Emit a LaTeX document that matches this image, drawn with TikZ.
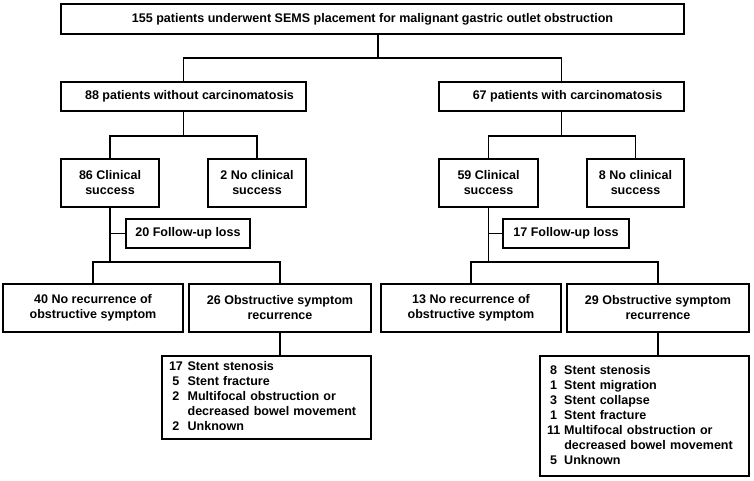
\documentclass[tikz,border=0pt]{standalone}
\usepackage{fontspec}
\setmainfont{Liberation Sans}
\usetikzlibrary{calc}
\tikzset{
  box/.style={draw, line width=1.4pt, align=center, inner sep=0pt,
    font=\bfseries\fontsize{9.4pt}{11.25pt}\selectfont},
  sz/.style 2 args={minimum width=#1*0.75pt, minimum height=#2*0.75pt},
  conn/.style={line width=1.4pt, line cap=rect, line join=miter},
  listbox/.style 2 args={box, align=left, inner ysep=0pt, inner xsep=5.25pt,
    text width=#1*0.75pt-10.5pt, minimum height=#2*0.75pt}
}
\begin{document}
\begin{tikzpicture}[x=0.75pt,y=-0.75pt]
\fill[white] (0,0) rectangle (754,480);
\useasboundingbox (0,0) rectangle (754,480);

\node[box,sz={623}{30}] (top) at (372.5,19) {155 patients underwent SEMS placement for malignant gastric outlet obstruction};

\node[box,sz={245}{29}] (L1) at (183.5,96.5) {\hspace*{9pt}88 patients without carcinomatosis};
\node[box,sz={245}{29}] (R1) at (561.5,96.5) {\hspace*{9pt}67 patients with carcinomatosis};

\node[box,sz={98}{48}] (LCS) at (110,183) {86 Clinical\\success};
\node[box,sz={98}{48}] (LNC) at (257,183) {2 No clinical\\success};
\node[box,sz={99}{48}] (RCS) at (488.5,183) {59 Clinical\\success};
\node[box,sz={97}{48}] (RNC) at (635.5,183) {8 No clinical\\success};

\node[box,sz={124}{29}] (LFU) at (188,233.5) {20 Follow-up loss};
\node[box,sz={126}{29}] (RFU) at (566,233.5) {17 Follow-up loss};

\node[box,sz={180}{48}] (LNR) at (93,308) {40 No recurrence of\\obstructive symptom};
\node[box,sz={182}{48}] (LOR) at (280,308) {26 Obstructive symptom\\recurrence};
\node[box,sz={180}{48}] (RNR) at (471,308) {13 No recurrence of\\obstructive symptom};
\node[box,sz={182}{48}] (ROR) at (658,308) {29 Obstructive symptom\\recurrence};

\node[listbox={209}{83}] (LL) at (266.5,397.5) {\begin{tabular}{@{}c@{\hspace{3.5pt}}l@{}}17 & Stent stenosis\\ 5 & Stent fracture\\ 2 & Multifocal obstruction or\\ & decreased bowel movement\\ 2 & Unknown\end{tabular}};
\node[listbox={209}{120}] (RL) at (644.5,416) {\begin{tabular}{@{}c@{\hspace{3pt}}l@{}}8 & Stent stenosis\\ 1 & Stent migration\\ 3 & Stent collapse\\ 1 & Stent fracture\\ 11 & Multifocal obstruction or\\ & decreased bowel movement\\ 5 & Unknown\end{tabular}};

% connectors
\coordinate (j0) at (378,58);
\draw[conn] (top.south -| j0) -- (j0);
\draw[conn] (L1.north) |- (j0) -| (R1.north);

\coordinate (j1) at ($(L1.south)+(0,24)$);
\draw[conn] (L1.south) -- (j1);
\draw[conn] (LCS.north) |- (j1) -| (LNC.north);
\coordinate (j2) at ($(R1.south)+(0,24)$);
\draw[conn] (R1.south) -- (j2);
\draw[conn] (RCS.north) |- (j2) -| (RNC.north);

\coordinate (j3) at ($(LCS.south)+(0,54)$);
\draw[conn] (LCS.south) -- (j3);
\draw[conn] (LCS.south |- LFU.west) -- (LFU.west);
\draw[conn] (LNR.north) |- (j3) -| (LOR.north);
\coordinate (j4) at ($(RCS.south)+(0,54)$);
\draw[conn] (RCS.south) -- (j4);
\draw[conn] (RCS.south |- RFU.west) -- (RFU.west);
\draw[conn] (RNR.north) |- (j4) -| (ROR.north);

\draw[conn] (LOR.south) -- (LOR.south |- LL.north);
\draw[conn] (ROR.south) -- (ROR.south |- RL.north);
\end{tikzpicture}
\end{document}
